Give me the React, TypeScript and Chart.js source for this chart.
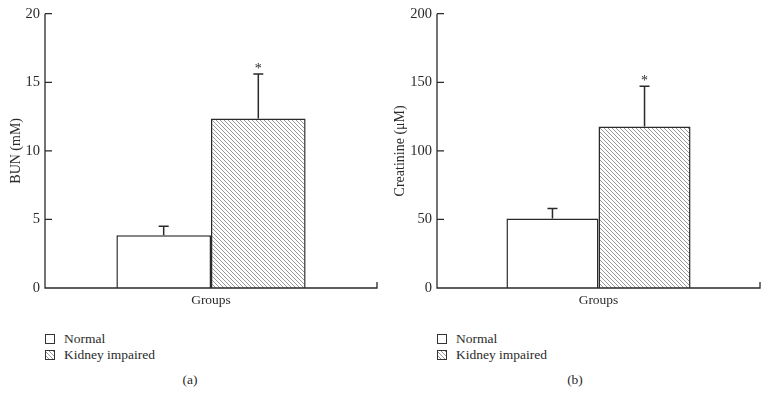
import React, { useEffect, useRef } from 'react';
import { Chart, registerables } from 'chart.js';
Chart.register(...registerables);

const categories = ['Groups'];
const seriesNames = ['Normal', 'Kidney impaired'];
const bunMeans = [3.85, 12.35];
const bunErrors = [0.65, 3.25];
const creatMeans = [50.7, 117.8];
const creatErrors = [7.2, 29.3];
const bunTicks = [0, 5, 10, 15, 20];
const creatTicks = [0, 50, 100, 150, 200];
const significance = ['', '*'];

const FONT = '"Liberation Serif", "Times New Roman", serif';
const INK = '#2a2a2a';

function makeHatch(): CanvasPattern | string {
  const c = document.createElement('canvas');
  c.width = 4;
  c.height = 4;
  const g = c.getContext('2d');
  if (!g) return '#bbb';
  g.fillStyle = '#ffffff';
  g.fillRect(0, 0, 4, 4);
  g.strokeStyle = '#8c8c8c';
  g.lineWidth = 0.9;
  g.beginPath();
  g.moveTo(0, 0); g.lineTo(4, 4);
  g.moveTo(-1, 3); g.lineTo(1, 5);
  g.moveTo(3, -1); g.lineTo(5, 1);
  g.stroke();
  const p = g.createPattern(c, 'repeat');
  return p || '#bbb';
}

function errorPlugin(errors: number[], marks: string[]) {
  return {
    id: 'errbars',
    afterDatasetsDraw(chart: any) {
      const ctx = chart.ctx;
      const ys = chart.scales.y;
      chart.data.datasets.forEach((ds: any, di: number) => {
        const meta = chart.getDatasetMeta(di);
        meta.data.forEach((bar: any, i: number) => {
          const v = ds.data[i];
          const e = errors[di];
          const x = bar.x;
          const y0 = ys.getPixelForValue(v);
          const y1 = ys.getPixelForValue(v + e);
          ctx.save();
          ctx.strokeStyle = INK;
          ctx.lineWidth = 1.5;
          ctx.beginPath();
          ctx.moveTo(x, y0);
          ctx.lineTo(x, y1);
          ctx.moveTo(x - 5, y1);
          ctx.lineTo(x + 5, y1);
          ctx.stroke();
          if (marks[di]) {
            ctx.fillStyle = INK;
            ctx.font = '14px ' + FONT;
            ctx.textAlign = 'center';
            ctx.textBaseline = 'alphabetic';
            ctx.fillText(marks[di], x, y1 - 1);
          }
          ctx.restore();
        });
      });
    },
  };
}

const axesPlugin = {
  id: 'axesdraw',
  afterDraw(chart: any) {
    const ctx = chart.ctx;
    const { left, right, top, bottom } = chart.chartArea;
    const ys = chart.scales.y;
    ctx.save();
    ctx.strokeStyle = INK;
    ctx.lineWidth = 1.3;
    ctx.beginPath();
    ctx.moveTo(left, top);
    ctx.lineTo(left, bottom);
    ctx.lineTo(right, bottom);
    ctx.lineTo(right, bottom - 6);
    ys.ticks.forEach((t: any) => {
      const y = ys.getPixelForValue(t.value);
      ctx.moveTo(left, y);
      ctx.lineTo(left + 7, y);
    });
    ctx.stroke();
    ctx.restore();
  },
};

function Panel(props: {
  means: number[];
  errors: number[];
  ticks: number[];
  title: string;
  axisWidth: number;
  padRight: number;
}) {
  const ref = useRef<HTMLCanvasElement | null>(null);
  useEffect(() => {
    if (!ref.current) return;
    const hatch = makeHatch();
    const tickMax = props.ticks[props.ticks.length - 1];
    const step = props.ticks[1] - props.ticks[0];
    const chart = new Chart(ref.current, {
      type: 'bar',
      data: {
        labels: categories,
        datasets: [
          {
            label: seriesNames[0],
            data: [props.means[0]],
            backgroundColor: '#ffffff',
            borderColor: INK,
            borderWidth: 1.5,
            categoryPercentage: 0.57,
            barPercentage: 1,
          },
          {
            label: seriesNames[1],
            data: [props.means[1]],
            backgroundColor: hatch as any,
            borderColor: INK,
            borderWidth: 1.5,
            categoryPercentage: 0.57,
            barPercentage: 1,
          },
        ],
      },
      options: {
        responsive: false,
        animation: false,
        layout: { padding: { top: 13, right: props.padRight, left: 0, bottom: 0 } },
        plugins: { legend: { display: false }, tooltip: { enabled: false } },
        scales: {
          x: {
            grid: { display: false, drawTicks: false },
            border: { display: false },
            ticks: { color: INK, font: { family: FONT, size: 13.5 }, padding: 4 },
            afterFit: (s: any) => { s.height = 32; },
          },
          y: {
            min: 0,
            max: tickMax,
            grid: { display: false, drawTicks: false },
            border: { display: false },
            ticks: {
              stepSize: step,
              color: INK,
              font: { family: FONT, size: 14.5 },
              padding: 5,
            },
            title: {
              display: true,
              text: props.title,
              color: INK,
              font: { family: FONT, size: 14 },
              padding: { top: 8, bottom: 0 },
            },
            afterFit: (s: any) => { s.width = props.axisWidth; },
          },
        },
      },
      plugins: [errorPlugin(props.errors, significance), axesPlugin],
    } as any);
    return () => chart.destroy();
  }, []);
  return <canvas ref={ref} width={384} height={320} style={{ display: 'block' }} />;
}

function Legend(props: { left: number; caption: string; captionX: number }) {
  const box: React.CSSProperties = {
    position: 'absolute',
    width: 10,
    height: 10,
    boxSizing: 'border-box',
    border: '1px solid #333',
  };
  const txt: React.CSSProperties = {
    position: 'absolute',
    fontFamily: FONT,
    fontSize: 13.5,
    color: INK,
    lineHeight: '16px',
    whiteSpace: 'nowrap',
  };
  return (
    <>
      <div style={{ ...box, left: props.left, top: 334, background: '#fff' }} />
      <div style={{ ...txt, left: props.left + 19, top: 331 }}>{seriesNames[0]}</div>
      <div
        style={{
          ...box,
          left: props.left,
          top: 350,
          background: 'repeating-linear-gradient(45deg, #fff 0px, #fff 1.8px, #999 1.8px, #999 2.8px)',
        }}
      />
      <div style={{ ...txt, left: props.left + 19, top: 347 }}>{seriesNames[1]}</div>
      <div style={{ ...txt, left: props.captionX - 20, width: 40, textAlign: 'center', top: 372 }}>
        {props.caption}
      </div>
    </>
  );
}

export default function App() {
  return (
    <div
      style={{
        position: 'fixed',
        left: 0,
        top: 0,
        width: 768,
        height: 407,
        background: '#fff',
        overflow: 'hidden',
      }}
    >
      <div style={{ position: 'absolute', left: 0, top: 0 }}>
        <Panel means={bunMeans} errors={bunErrors} ticks={bunTicks} title="BUN (mM)" axisWidth={45} padRight={7} />
      </div>
      <div style={{ position: 'absolute', left: 384, top: 0 }}>
        <Panel
          means={creatMeans}
          errors={creatErrors}
          ticks={creatTicks}
          title="Creatinine (μM)"
          axisWidth={53}
          padRight={8}
        />
      </div>
      <Legend left={45} caption="(a)" captionX={190} />
      <Legend left={437} caption="(b)" captionX={575} />
    </div>
  );
}
